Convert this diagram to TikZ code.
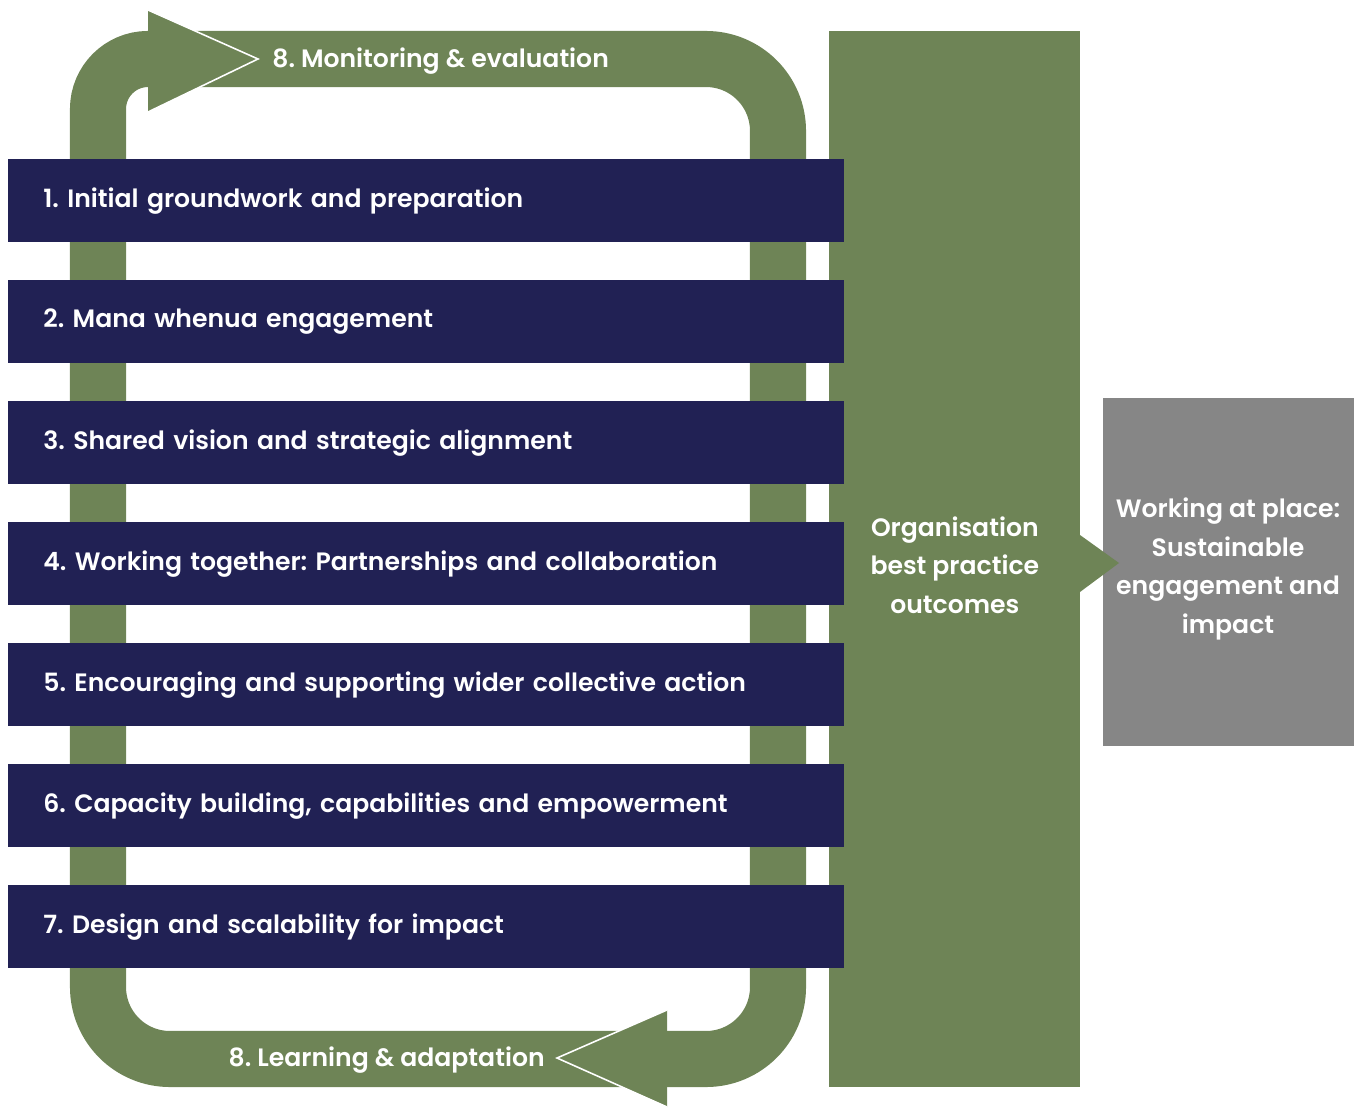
\documentclass[tikz,border=0pt]{standalone}
\usepackage{fontspec}
\setmainfont{Poppins}[BoldFont={Poppins SemiBold}]
\frenchspacing

\definecolor{navy}{RGB}{33,33,84}
\definecolor{leaf}{RGB}{110,132,86}
\definecolor{stone}{RGB}{134,134,134}

\begin{document}
\begin{tikzpicture}[x=0.02cm,y=-0.02cm,
    label8/.style ={text=white, inner sep=0pt, font=\bfseries\fontsize{14.3}{21.9}\selectfont},
    stage/.style ={fill=navy, text=white, anchor=north west, inner xsep=0.7cm, inner ysep=0pt,
                   text width=15.32cm, minimum height=1.66cm, align=left,
                   font=\bfseries\fontsize{14.3}{21.9}\selectfont},
    outcome/.style ={text=white, align=center, font=\bfseries\fontsize{14.3}{21.9}\selectfont}]
   \useasboundingbox (0,0) rectangle (1356,1108);
   % the feedback loop behind the stages
   \draw[leaf, line width=31.9pt] (200,59) [rounded corners=1.44cm] -- (778,59) -- (778,1059)
        -- (98,1059) [rounded corners=1cm] -- (98,59) -- (200,59);
   \fill[leaf] (148,10) -- (258,59) -- (148,112) -- cycle;
   \draw[white, line width=0.9pt] (148,10) -- (258,59) -- (148,112);
   \fill[leaf] (667,1010) -- (557,1058) -- (667,1107) -- cycle;
   \draw[white, line width=0.9pt] (667,1010) -- (557,1058) -- (667,1107);
   \node[label8, anchor=west] (mon) at (272,61) {8. Monitoring \& evaluation};
   \node[label8, anchor=east] (learn) at (545,1060) {8. Learning \& adaptation};
   % outcome column
   \node[fill=leaf, anchor=north west, minimum width=5.02cm, minimum height=21.12cm, inner sep=0pt] (col) at (829,31) {};
   \foreach \i/\txt in {1/{1. Initial groundwork and preparation},
                        2/{2. Mana whenua engagement},
                        3/{3. Shared vision and strategic alignment},
                        4/{4. Working together: Partnerships and collaboration},
                        5/{5. Encouraging and supporting wider collective action},
                        6/{6. Capacity building, capabilities and empowerment},
                        7/{7. Design and scalability for impact}}
     \node[stage] (s\i) at (8,{159+121*(\i-1)}) {\txt};
   \node[fill=stone, anchor=north west, minimum width=5.02cm, minimum height=6.96cm, inner sep=0pt] (place) at (1103,398) {};
   \fill[leaf] (1080,535) -- (1119,563) -- (1080,592) -- cycle;
   \node[outcome] (best) at (col.center |- 0,565) {Organisation\\best practice\\outcomes};
   \node[outcome] (work) at (1228,569) {Working at place:\\Sustainable\\engagement and\\impact};
 \end{tikzpicture}
\end{document}
